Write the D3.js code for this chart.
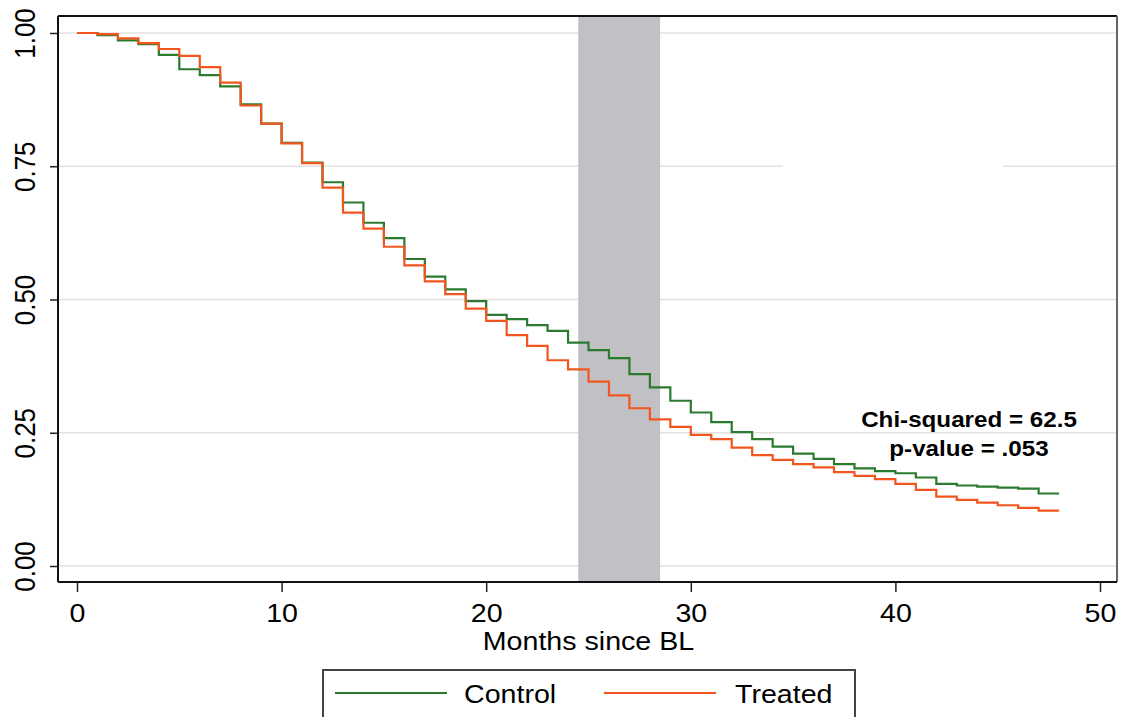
<!DOCTYPE html>
<html>
<head>
<meta charset="utf-8">
<script src="https://cdn.jsdelivr.net/npm/d3@7"></script>
<style>
  html, body { margin: 0; padding: 0; background: #fff; }
  svg { display: block; }
  text { font-family: "Liberation Sans", Arial, sans-serif; fill: #000; }
</style>
</head>
<body>
<svg id="chart" width="1122" height="717"></svg>
<script>
// ---- data ----
const months = d3.range(0, 48);           // start month of each step interval
const endMonth = 48;
const control = [1.000, 0.996, 0.986, 0.979, 0.959, 0.932, 0.921, 0.900, 0.866, 0.830,
                 0.794, 0.757, 0.720, 0.682, 0.644, 0.615, 0.576, 0.543, 0.519, 0.497,
                 0.471, 0.463, 0.452, 0.441, 0.419, 0.405, 0.390, 0.360, 0.335, 0.310,
                 0.288, 0.270, 0.251, 0.238, 0.224, 0.211, 0.201, 0.191, 0.183, 0.178,
                 0.174, 0.166, 0.154, 0.151, 0.149, 0.147, 0.145, 0.136];
const treated = [1.000, 0.998, 0.990, 0.981, 0.970, 0.957, 0.936, 0.907, 0.864, 0.830,
                 0.793, 0.756, 0.710, 0.663, 0.633, 0.599, 0.564, 0.534, 0.510, 0.483,
                 0.460, 0.433, 0.413, 0.386, 0.369, 0.346, 0.320, 0.296, 0.275, 0.261,
                 0.246, 0.238, 0.222, 0.208, 0.199, 0.191, 0.185, 0.176, 0.169, 0.163,
                 0.154, 0.143, 0.130, 0.124, 0.119, 0.114, 0.109, 0.104];
const xTicks = [0, 10, 20, 30, 40, 50];
const yTicks = [0, 0.25, 0.5, 0.75, 1.0];
const yTickLabels = ["0.00", "0.25", "0.50", "0.75", "1.00"];
const band = [24.5, 28.5];
const seriesNames = ["Control", "Treated"];
const seriesColors = ["#2b7a2f", "#f2561f"];
const annotation = ["Chi-squared = 62.5", "p-value = .053"];
const xTitle = "Months since BL";

// ---- layout ----
const svg = d3.select("#chart");
const frame = {left: 58, right: 1117, top: 16, bottom: 582};
const x = d3.scaleLinear().domain([0, 50]).range([77, 1100]);
const y = d3.scaleLinear().domain([0, 1]).range([566, 33]);
const SX = 1.1; // horizontal text stretch seen in the reference

// grid lines
svg.append("g").selectAll("line").data(yTicks).join("line")
  .attr("x1", frame.left).attr("x2", frame.right)
  .attr("y1", d => y(d)).attr("y2", d => y(d))
  .attr("stroke", "#e2e2e2").attr("stroke-width", 1.6);

// stray white patch over the 0.75 grid line (as in the reference)
svg.append("rect").attr("x", 783).attr("y", y(0.75) - 4).attr("width", 220).attr("height", 8)
  .attr("fill", "#fff");

// shaded band
svg.append("rect")
  .attr("x", x(band[0])).attr("y", frame.top)
  .attr("width", x(band[1]) - x(band[0])).attr("height", frame.bottom - frame.top)
  .attr("fill", "#c1c0c4");

// step curves
const line = d3.line().x(d => x(d[0])).y(d => y(d[1])).curve(d3.curveStepAfter);
[control, treated].forEach((vals, i) => {
  const pts = months.map((m, j) => [m, vals[j]]);
  pts.push([endMonth, vals[vals.length - 1]]);
  svg.append("path").datum(pts)
    .attr("d", line).attr("fill", "none")
    .attr("stroke", seriesColors[i]).attr("stroke-width", 2.2)
    .attr("stroke-linejoin", "miter");
});

// frame (top + right)
svg.append("line").attr("x1", frame.left).attr("x2", frame.right)
  .attr("y1", frame.top).attr("y2", frame.top).attr("stroke", "#111").attr("stroke-width", 1.8);
svg.append("line").attr("x1", frame.right).attr("x2", frame.right)
  .attr("y1", frame.top).attr("y2", frame.bottom).attr("stroke", "#555").attr("stroke-width", 1.8);

// x axis
const xAxis = d3.axisBottom(x).tickValues(xTicks).tickSize(10).tickFormat(d3.format("d"));
const gx = svg.append("g").attr("transform", `translate(0,${frame.bottom})`).call(xAxis);
gx.select(".domain").remove();
gx.selectAll(".tick line").attr("stroke", "#222").attr("stroke-width", 1.5);
gx.selectAll(".tick text").remove();
gx.selectAll(".tick").append("text")
  .attr("transform", `translate(0,${622 - frame.bottom}) scale(${SX},1)`)
  .attr("text-anchor", "middle").attr("font-size", 26)
  .text(d => d3.format("d")(d));
svg.append("line").attr("x1", frame.left).attr("x2", frame.right)
  .attr("y1", frame.bottom).attr("y2", frame.bottom).attr("stroke", "#111").attr("stroke-width", 2);

// y axis
const yAxis = d3.axisLeft(y).tickValues(yTicks).tickSize(8);
const gy = svg.append("g").attr("transform", `translate(${frame.left},0)`).call(yAxis);
gy.select(".domain").remove();
gy.selectAll(".tick line").attr("stroke", "#222").attr("stroke-width", 1.5);
gy.selectAll(".tick text").remove();
gy.selectAll(".tick").append("text")
  .attr("transform", `translate(${35 - frame.left},0) scale(${SX},1) rotate(-90)`)
  .attr("text-anchor", "middle").attr("font-size", 26)
  .text((d, i) => yTickLabels[yTicks.indexOf(d)]);
svg.append("line").attr("x1", frame.left).attr("x2", frame.left)
  .attr("y1", frame.top).attr("y2", frame.bottom).attr("stroke", "#111").attr("stroke-width", 2);

// x title
svg.append("text")
  .attr("transform", `translate(${(480 + 697) / 2},650) scale(${SX},1)`)
  .attr("text-anchor", "middle").attr("font-size", 26).text(xTitle);

// annotation
svg.append("g").selectAll("text").data(annotation).join("text")
  .attr("x", 969).attr("y", (d, i) => 427 + i * 29.5)
  .attr("text-anchor", "middle").attr("font-size", 22).attr("font-weight", "bold")
  .attr("transform", "translate(969,0) scale(1.1,1) translate(-969,0)")
  .text(d => d);

// legend
const lg = svg.append("g");
lg.append("rect").attr("x", 323).attr("y", 670).attr("width", 532).attr("height", 70)
  .attr("fill", "#fff").attr("stroke", "#444").attr("stroke-width", 2);
const legendX = [[335, 447, 464], [604, 716, 735]];
seriesNames.forEach((name, i) => {
  lg.append("line").attr("x1", legendX[i][0]).attr("x2", legendX[i][1])
    .attr("y1", 693).attr("y2", 693).attr("stroke", seriesColors[i]).attr("stroke-width", 2.2);
  lg.append("text").attr("transform", `translate(${legendX[i][2]},703) scale(${SX},1)`)
    .attr("font-size", 26).text(name);
});
</script>
</body>
</html>
